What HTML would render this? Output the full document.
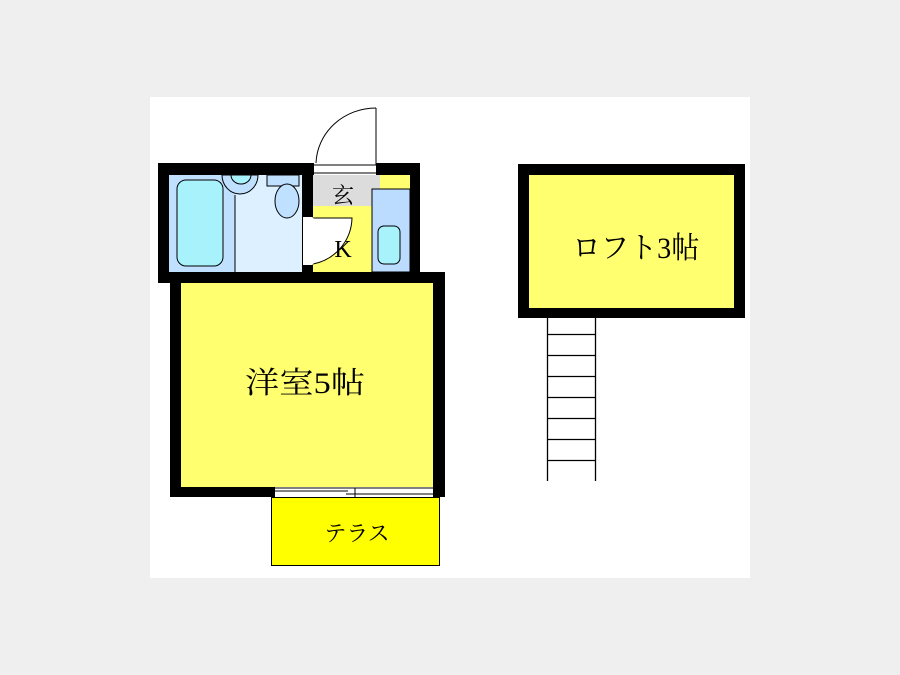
<!DOCTYPE html>
<html><head><meta charset="utf-8"><style>
html,body{margin:0;padding:0;background:#efefef;}
svg{display:block;}
</style></head><body>
<svg width="900" height="675" viewBox="0 0 900 675" xmlns="http://www.w3.org/2000/svg">
<rect x="0" y="0" width="900" height="675" fill="#efefef"/>
<rect x="150" y="97" width="600" height="481" fill="#ffffff"/>

<!-- upper block walls -->
<rect x="158" y="163" width="262" height="120" fill="#000"/>
<!-- bath -->
<rect x="169" y="175" width="66" height="97" fill="#bfe0ff"/>
<rect x="235" y="175" width="67" height="97" fill="#ddf0ff"/>
<line x1="235" y1="195" x2="235" y2="272" stroke="#000" stroke-width="1"/>
<rect x="177" y="180" width="46" height="86" rx="9" fill="#a8f2fc" stroke="#000" stroke-width="1"/>
<path d="M222 175 A18 19 0 0 0 258 175 Z" fill="#bfe0ff" stroke="#000" stroke-width="1"/>
<path d="M231 175 A10 9 0 0 0 251 175 Z" fill="#a8f2fc" stroke="#000" stroke-width="1"/>
<rect x="267" y="175" width="32" height="11" fill="#bfe0ff" stroke="#000" stroke-width="1"/>
<ellipse cx="287" cy="201" rx="12" ry="17" fill="#bfe0ff" stroke="#000" stroke-width="1"/>
<!-- genkan / K -->
<rect x="313" y="175" width="97" height="97" fill="#ffff6f"/>
<rect x="313" y="175" width="67" height="31" fill="#dcdcdc"/>
<rect x="372" y="189" width="38" height="83" fill="#bbdcff" stroke="#000" stroke-width="1"/>
<rect x="378" y="226" width="22" height="38" rx="6" fill="#a8f2fc" stroke="#000" stroke-width="1"/>
<rect x="303" y="217" width="10" height="48" fill="#fff"/>
<path d="M313 218 L352 218 A48 48 0 0 1 313 264 Z" fill="#fff" stroke="#000" stroke-width="1"/>
<line x1="313" y1="218" x2="313" y2="264" stroke="#fff" stroke-width="1"/>
<!-- entrance door -->
<rect x="314" y="163" width="62" height="12" fill="#fff"/>
<line x1="314" y1="165" x2="376" y2="165" stroke="#000" stroke-width="1"/>
<line x1="314" y1="173" x2="376" y2="173" stroke="#000" stroke-width="1"/>
<line x1="376" y1="108" x2="376" y2="165" stroke="#000" stroke-width="1"/>
<path d="M376 108 A60 57 0 0 0 316 163" fill="none" stroke="#000" stroke-width="1"/>
<text x="343" y="203" font-family="Liberation Serif, Noto Serif CJK SC, serif" font-size="22" text-anchor="middle">玄</text>
<text x="343" y="257" font-family="Liberation Serif, Noto Serif CJK SC, serif" font-size="24" text-anchor="middle">K</text>

<!-- main room -->
<rect x="170" y="272" width="275" height="225" fill="#000"/>
<rect x="181" y="283" width="252" height="204" fill="#ffff6f"/>
<rect x="275" y="487" width="158" height="10" fill="#fff"/>
<line x1="275" y1="488" x2="433" y2="488" stroke="#000" stroke-width="1"/>
<line x1="275" y1="491" x2="348" y2="491" stroke="#000" stroke-width="1"/>
<line x1="346" y1="494" x2="433" y2="494" stroke="#000" stroke-width="1"/>
<line x1="355" y1="488" x2="355" y2="497" stroke="#000" stroke-width="1"/>
<text x="305" y="393" font-family="Liberation Serif, Noto Serif CJK JP, serif" font-size="30" text-anchor="middle" textLength="120" lengthAdjust="spacingAndGlyphs">洋室5帖</text>

<!-- terrace -->
<rect x="271.5" y="497.5" width="168" height="68" fill="#ffff00" stroke="#000" stroke-width="1"/>
<text x="357" y="541" font-family="Liberation Serif, Noto Serif CJK JP, serif" font-size="22" text-anchor="middle">テラス</text>

<!-- loft -->
<rect x="518" y="164" width="227" height="154" fill="#000"/>
<rect x="529" y="175" width="205" height="133" fill="#ffff6f"/>
<text x="636" y="258" font-family="Liberation Serif, Noto Serif CJK JP, serif" font-size="30" text-anchor="middle" textLength="127" lengthAdjust="spacingAndGlyphs">ロフト3帖</text>
<g stroke="#000" stroke-width="1.3">
<line x1="547.5" y1="318" x2="547.5" y2="481"/>
<line x1="595.5" y1="318" x2="595.5" y2="481"/>
<line x1="547" y1="334.5" x2="596" y2="334.5"/>
<line x1="547" y1="355.5" x2="596" y2="355.5"/>
<line x1="547" y1="376.5" x2="596" y2="376.5"/>
<line x1="547" y1="397.5" x2="596" y2="397.5"/>
<line x1="547" y1="418.5" x2="596" y2="418.5"/>
<line x1="547" y1="439.5" x2="596" y2="439.5"/>
<line x1="547" y1="460.5" x2="596" y2="460.5"/>
</g>
</svg>
</body></html>
